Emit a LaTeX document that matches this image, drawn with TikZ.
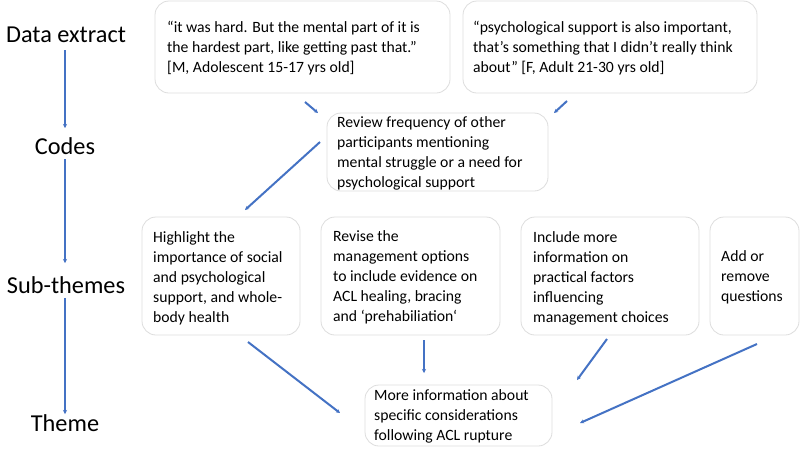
\documentclass[tikz,border=0pt]{standalone}
\usepackage{fontspec}
\setmainfont{Carlito}[Ligatures=ResetAll]
\usetikzlibrary{arrows.meta}
\definecolor{arr}{HTML}{4472C4}
\definecolor{bord}{HTML}{DDDDDD}
\tikzset{
  box/.style={draw=bord, line width=0.8pt, rounded corners=14pt, fill=white},
  txt/.style={anchor=base west, align=left, inner sep=0pt, font=\fontsize{15.7}{19.8}\selectfont},
  lbl/.style={anchor=base, inner sep=0pt, font=\fontsize{24.3}{26}\selectfont},
  con/.style={draw=arr, line width=2pt, -{Stealth[length=4pt,width=4pt]}},
  lcon/.style={draw=arr, line width=1.5pt, -{Stealth[length=4pt,width=4pt]}}
}
\begin{document}
\begin{tikzpicture}[x=1pt,y=-1pt]
\useasboundingbox[fill=white] (0,0) rectangle (800,448);
% boxes
\path[box] (155,1) rectangle (450,93);
\path[box] (463,1) rectangle (757,93);
\path[box] (327,113) rectangle (548,191);
\path[box] (142,217) rectangle (300,335);
\path[box] (321,217) rectangle (500,335);
\path[box] (521,217) rectangle (699,335);
\path[box] (710,217) rectangle (799,335);
\path[box] (365,385) rectangle (552,446);
% texts (anchored at the baseline of the last line)
\node[txt] (A) at (167,72) {“it was hard. But the mental part of it is\\the hardest part, like getting past that.”\\{[M, Adolescent 15-17 yrs old]}};
\node[txt] (B) at (473,72) {“psychological support is also important,\\that's something that I didn't really think\\about” [F, Adult 21-30 yrs old]};
\node[txt] (C) at (337,187) {Review frequency of other\\participants mentioning\\mental struggle or a need for\\psychological support};
\node[txt] (D) at (153,322) {Highlight the\\importance of social\\and psychological\\support, and whole-\\body health};
\node[txt] (E) at (333,321) {Revise the\\management options\\to include evidence on\\ACL healing, bracing\\and ‘prehabiliation`};
\node[txt] (F) at (533,322) {Include more\\information on\\practical factors\\influencing\\management choices};
\node[txt] (G) at (721,301) {Add or\\remove\\questions};
\node[txt] (H) at (374,440) {More information about\\specific considerations\\following ACL rupture};
% labels
\node[lbl] (L1) at (66,42) {Data extract};
\node[lbl] (L2) at (65,154) {Codes};
\node[lbl] (L3) at (66,293) {Sub-themes};
\node[lbl] (L4) at (65,431) {Theme};
% left arrows
\coordinate (l1a) at (65,50); \coordinate (l1b) at (65,128);
\coordinate (l2a) at (65,159); \coordinate (l2b) at (65,263);
\coordinate (l3a) at (65,298); \coordinate (l3b) at (65,414);
\draw[lcon] (l1a) -- (l1b);
\draw[lcon] (l2a) -- (l2b);
\draw[lcon] (l3a) -- (l3b);
% connectors
\coordinate (a1) at (305,102); \coordinate (a2) at (318,113);
\coordinate (b1) at (567,101); \coordinate (b2) at (554,113);
\coordinate (c1) at (320,142); \coordinate (c2) at (245,210);
\coordinate (d1) at (248,342); \coordinate (d2) at (340,413);
\coordinate (e1) at (424,340); \coordinate (e2) at (424,373);
\coordinate (f1) at (607,339); \coordinate (f2) at (577,380);
\coordinate (g1) at (757,344); \coordinate (g2) at (580,423);
\draw[con] (a1) -- (a2);
\draw[con] (b1) -- (b2);
\draw[con] (c1) -- (c2);
\draw[con] (d1) -- (d2);
\draw[con] (e1) -- (e2);
\draw[con] (f1) -- (f2);
\draw[con] (g1) -- (g2);
\end{tikzpicture}
\end{document}
